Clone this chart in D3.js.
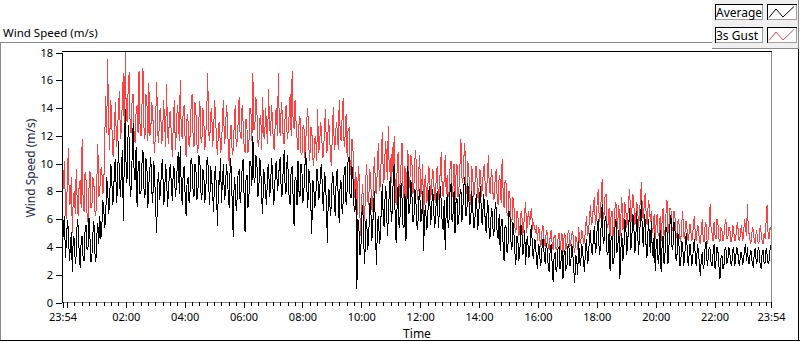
<!DOCTYPE html>
<html><head><meta charset="utf-8">
<script src="https://cdn.jsdelivr.net/npm/d3@7"></script>
<style>body{margin:0;background:#fff}svg{display:block}</style>
</head><body>
<svg id="c" width="800" height="342"></svg>
<script>
// ---------------- data ----------------
const startMinute = -9;      // minutes relative to midnight (first sample, shown as 23:54)
const stepMinutes = 2;       // sample spacing
const average = [
3.8,5.6,6.2,3.2,4.5,5.9,5.3,3.0,3.9,5.1,2.2,4.8,4.6,2.8,3.4,6.0,5.5,3.6,2.5,4.4,
4.8,3.2,3.0,5.2,5.6,3.8,4.0,6.1,4.6,2.9,3.4,5.0,5.9,3.6,2.9,4.9,5.7,4.2,6.2,4.6,
5.2,7.4,6.8,5.4,6.0,9.0,8.2,6.4,7.0,10.0,9.6,7.0,7.5,9.9,10.3,7.2,8.0,11.6,9.0,7.6,
9.5,11.0,5.9,10.4,13.9,8.6,9.0,12.8,11.7,7.6,8.2,10.6,12.9,9.2,8.8,11.2,6.9,9.6,10.2,7.8,
8.0,10.0,11.0,8.2,7.5,10.4,9.8,6.8,8.5,9.6,10.5,8.0,7.2,10.2,9.0,6.6,5.0,8.6,9.4,7.4,
8.2,9.8,10.3,7.0,7.5,10.0,9.2,6.9,8.0,9.4,10.0,8.2,7.3,9.8,9.6,7.6,8.4,9.9,10.8,7.8,
11.3,8.4,7.0,9.4,9.8,7.6,6.2,8.8,9.0,7.2,8.0,10.4,10.0,8.2,7.6,10.0,9.5,7.4,8.0,10.6,
10.2,8.0,7.4,9.6,9.3,7.2,8.0,10.2,10.5,8.4,7.0,9.8,9.0,7.8,6.5,9.2,9.8,7.6,5.5,8.8,
8.5,10.4,7.2,8.8,10.0,7.4,7.8,10.0,9.2,7.6,6.8,10.4,9.6,7.0,4.7,9.0,8.4,6.6,7.5,9.4,
9.5,7.2,8.0,9.6,10.3,7.8,5.1,8.8,9.2,6.8,7.6,10.2,10.0,8.4,12.0,9.0,8.6,10.6,10.4,7.6,
8.0,10.4,9.8,7.4,6.4,9.6,9.0,7.8,7.0,9.6,10.0,7.6,8.2,10.4,9.4,7.0,7.5,9.8,10.2,8.0,
8.6,10.0,10.5,7.6,7.8,9.8,11.0,7.8,8.0,10.6,9.4,7.4,7.0,9.6,9.8,7.6,5.5,9.0,8.8,7.0,
10.2,8.0,7.6,10.0,9.5,7.2,8.0,9.8,10.8,8.2,6.8,9.6,9.0,7.2,4.9,8.8,8.5,6.8,7.2,9.6,
9.6,7.4,7.8,9.6,10.0,7.6,6.6,9.4,8.8,6.8,4.3,8.2,8.0,6.2,7.0,9.4,9.0,7.2,6.2,9.2,
9.6,7.6,5.7,8.8,8.6,6.4,7.2,9.4,9.8,7.0,8.0,10.2,10.5,7.8,7.5,9.8,9.0,7.0,6.5,8.2,
1.0,6.0,5.5,3.4,3.7,6.4,7.0,4.2,2.8,5.8,6.0,3.8,4.6,7.0,7.5,4.4,5.0,7.2,8.0,4.8,
2.7,5.8,6.2,4.2,4.8,7.2,8.5,5.6,5.5,8.4,7.8,4.8,6.0,8.0,9.0,5.8,6.5,8.8,10.0,6.0,
4.3,7.0,8.4,5.4,6.2,8.6,7.5,5.6,5.4,7.8,4.4,7.2,9.8,6.4,6.8,8.8,8.0,5.8,5.8,8.2,
7.6,5.6,5.2,7.4,8.2,5.8,6.0,8.0,3.7,6.4,7.0,5.2,5.6,7.8,8.4,5.6,6.2,8.2,7.5,5.4,
5.8,7.6,8.0,5.4,6.5,8.4,7.2,5.6,5.2,7.4,3.8,6.6,7.8,5.4,6.0,8.2,8.6,5.8,6.4,8.0,
5.0,7.2,7.5,5.6,6.2,7.8,8.2,5.8,6.8,8.4,9.0,6.2,6.4,8.6,7.8,5.6,5.8,8.0,7.0,5.4,
5.4,7.4,7.8,5.2,6.0,7.6,8.4,5.8,5.6,7.8,7.2,5.4,5.0,7.4,6.8,4.6,4.8,6.8,6.5,4.8,
5.2,7.2,6.8,4.8,4.6,6.4,3.7,5.8,6.0,4.2,3.0,5.6,5.4,3.6,4.2,6.6,6.2,4.4,3.8,5.8,
5.0,3.6,2.7,4.8,4.6,3.0,3.5,5.6,5.4,3.4,3.8,5.2,2.7,4.4,4.8,3.2,3.4,5.0,5.6,3.6,
3.1,4.6,4.4,3.0,2.4,4.2,4.0,2.6,3.0,4.4,4.6,3.2,2.8,4.3,3.8,2.6,2.2,3.9,4.2,2.8,
1.45,3.4,3.6,2.2,2.6,3.9,4.0,2.4,3.0,3.8,1.7,3.4,3.8,2.4,2.5,4.0,4.2,2.6,2.9,4.2,
3.6,2.4,1.4,3.4,3.2,2.0,4.4,3.0,2.6,4.2,3.8,2.8,2.2,4.0,4.6,2.8,3.2,4.8,5.2,3.6,
3.5,4.6,5.5,3.6,4.0,5.6,6.0,3.4,3.8,5.8,7.1,4.2,4.5,6.2,5.8,3.4,3.6,5.0,2.3,4.6,
4.8,2.8,3.2,5.4,6.0,3.6,4.2,5.2,1.7,3.8,5.0,3.0,3.6,6.0,5.6,3.4,4.4,5.6,6.8,3.8,
4.2,6.4,6.2,3.6,3.8,6.6,5.4,3.4,4.8,6.0,7.4,4.6,4.0,6.4,5.8,3.2,3.4,6.0,5.0,3.6,
5.9,3.8,3.2,5.0,2.3,4.2,4.6,2.8,3.5,5.2,2.2,4.0,4.8,2.8,3.6,5.4,5.2,2.8,4.0,5.6,
6.3,4.0,3.8,5.8,5.6,3.2,3.0,5.0,4.6,2.6,2.8,4.4,4.2,2.6,3.2,4.6,5.0,3.0,2.6,4.2,
4.2,2.6,3.0,4.0,4.6,3.0,2.6,4.2,3.8,2.8,1.9,3.2,3.6,2.4,2.8,4.2,4.4,2.6,3.2,4.0,
3.8,2.8,2.6,3.6,4.2,2.4,3.0,4.0,3.6,2.6,1.7,3.2,3.4,2.4,2.6,3.8,4.0,2.8,3.0,4.0,
3.6,2.8,2.7,3.8,4.0,2.6,3.2,4.0,3.8,2.9,2.6,3.6,3.6,2.7,3.0,3.8,4.2,3.0,4.0,2.8,
2.8,3.8,3.6,2.7,2.6,3.6,3.9,2.8,3.0,4.0,3.7,2.6,2.5,3.6,3.8,2.8,2.9,3.9,3.5,2.8,
3.0,3.8,4.1
];
const gust = [
7.4,8.8,10.2,6.6,6.0,9.2,11.1,7.0,7.2,9.0,5.0,7.6,8.0,6.4,9.6,7.2,6.2,8.6,8.8,6.8,
11.8,7.4,6.5,9.4,8.8,6.4,5.8,8.2,9.5,6.8,7.0,9.0,8.6,6.6,6.2,8.8,11.4,7.6,8.0,9.6,
9.7,7.8,8.2,11.5,14.9,12.2,17.5,12.8,11.0,14.6,13.8,10.8,10.5,13.0,14.4,11.2,12.0,14.0,15.2,11.8,
12.5,14.6,16.5,12.0,18.0,13.4,13.0,15.6,16.6,12.4,12.2,14.8,15.0,12.0,11.5,13.8,14.2,12.2,16.7,12.8,
12.0,14.2,16.9,12.6,11.8,15.0,14.5,11.6,15.8,12.0,12.5,14.4,13.6,11.6,10.8,13.4,15.9,12.2,11.5,13.8,
14.0,11.4,12.0,14.6,13.2,11.2,15.7,12.4,11.4,13.6,13.8,11.6,10.5,13.2,14.6,11.0,12.3,14.2,13.5,11.6,
16.0,12.4,11.8,13.8,14.2,11.6,10.5,13.6,13.0,11.2,12.0,14.0,15.0,12.2,11.2,14.4,13.6,11.4,10.8,13.2,
14.5,11.8,11.5,14.0,13.2,11.0,12.0,13.8,16.5,12.2,11.6,13.6,14.0,11.2,12.3,14.6,13.4,11.4,10.6,12.8,
13.0,10.8,11.2,13.2,14.6,11.4,12.0,14.2,13.5,11.0,9.8,12.6,12.8,10.6,11.0,12.8,14.2,11.2,11.6,13.0,
14.8,12.0,11.8,14.2,13.0,11.4,10.8,13.2,12.5,10.8,11.5,14.0,13.8,11.6,16.5,12.4,12.6,14.8,14.0,11.6,
11.2,13.2,13.5,11.0,14.8,12.0,11.8,14.0,12.6,11.4,15.4,12.6,12.0,14.2,13.2,11.2,11.0,13.6,14.0,12.0,
16.5,12.6,12.0,14.4,13.6,11.6,11.4,13.8,14.2,11.8,12.3,13.6,15.0,12.0,16.7,13.0,12.5,14.6,13.0,11.8,
11.0,12.8,13.4,10.8,10.6,12.6,12.8,10.4,11.8,13.2,14.0,11.2,10.2,12.6,12.6,10.4,9.8,11.8,12.0,10.2,
13.9,10.8,11.2,13.0,12.4,10.4,10.6,12.6,13.9,10.8,11.0,13.2,12.5,10.6,9.8,12.2,14.1,11.0,11.5,13.0,
12.4,11.0,14.6,12.2,11.6,13.4,14.7,11.2,12.0,13.6,10.5,12.4,12.6,10.2,9.2,11.8,11.0,9.0,7.5,9.4,
6.0,8.6,9.8,6.4,4.8,7.6,8.5,5.8,6.2,8.8,10.0,7.4,7.0,9.6,9.0,6.8,6.5,9.2,10.5,8.0,
7.8,10.2,11.5,8.0,8.5,11.0,12.3,8.6,9.0,11.6,10.8,8.8,12.7,9.4,10.4,8.6,11.2,9.0,12.0,8.4,
7.0,9.6,10.8,7.6,8.6,10.0,11.5,8.4,7.5,9.8,6.8,9.2,11.0,8.2,8.8,10.6,10.4,7.8,8.2,10.2,
11.0,8.4,7.4,9.4,10.6,7.6,8.2,10.0,6.0,8.6,9.2,7.2,7.5,9.8,9.6,7.4,8.0,9.6,9.4,7.6,
7.2,9.4,9.8,7.4,8.0,9.6,10.8,8.0,7.6,9.0,10.6,7.8,9.2,7.6,8.0,9.8,10.2,7.6,8.4,10.0,
7.4,9.2,10.0,7.6,8.2,9.8,11.8,9.0,8.6,10.4,11.5,8.2,7.8,10.2,9.6,7.4,7.0,9.8,9.2,7.6,
8.0,9.8,9.8,7.8,7.2,9.6,9.4,7.6,8.4,9.6,10.0,7.8,7.6,9.2,10.6,8.0,7.8,9.6,9.0,7.4,
7.5,9.0,9.6,7.4,7.0,9.2,8.8,7.2,10.3,8.0,6.8,8.8,8.6,6.4,6.2,8.0,7.6,6.0,5.8,7.6,
7.0,5.4,5.0,6.6,6.4,4.8,5.2,6.4,6.6,4.8,5.4,6.6,7.2,5.0,6.0,6.6,5.6,6.4,6.8,5.2,
5.8,5.4,5.0,5.6,4.4,5.4,5.2,4.0,4.2,5.6,5.4,4.2,4.0,5.2,5.0,4.0,3.8,4.8,5.2,4.2,
3.8,4.8,4.8,3.8,4.0,4.6,5.0,3.8,4.4,5.0,3.6,4.6,5.0,3.8,4.2,5.0,5.2,4.0,4.4,5.0,
5.1,4.0,3.6,4.8,4.6,3.8,5.4,4.4,4.2,5.2,5.0,4.2,4.4,5.4,6.2,4.8,5.0,6.0,7.0,5.6,
5.8,7.0,7.6,5.6,6.0,7.4,8.2,5.8,6.2,7.6,8.9,6.0,6.4,7.8,7.8,5.4,5.6,6.8,4.8,6.2,
6.6,4.8,5.4,6.8,7.2,5.2,6.0,7.0,4.6,6.2,7.6,5.2,5.8,7.2,6.8,5.4,6.0,7.4,8.2,5.6,
6.2,7.8,7.6,5.6,5.8,7.2,7.0,5.4,6.4,7.6,8.7,6.2,6.0,7.4,7.9,5.8,5.6,7.4,7.0,5.8,
6.6,5.0,5.4,6.4,4.6,5.8,6.4,4.8,5.0,6.2,4.4,5.8,6.8,4.8,5.2,6.4,7.4,5.0,5.6,6.8,
6.8,5.2,5.2,6.6,6.4,4.6,4.8,5.8,6.0,4.6,4.4,5.6,6.6,4.8,4.6,5.8,5.8,4.6,4.4,5.6,
5.6,4.4,4.6,5.8,6.2,4.6,4.4,5.6,5.4,4.4,4.2,5.2,6.0,4.4,4.4,5.8,5.6,4.2,4.6,5.6,
7.1,5.2,5.0,4.4,5.8,4.8,4.6,6.0,5.6,4.6,4.4,5.4,5.2,4.4,4.8,5.6,6.0,4.6,4.6,5.4,
5.4,4.4,4.4,5.6,5.2,4.4,4.6,5.4,5.8,4.6,4.4,5.2,5.6,4.4,4.8,6.0,5.4,4.8,7.1,5.0,
5.0,4.2,4.4,5.4,5.2,4.4,4.2,5.2,4.8,4.2,4.4,5.6,5.0,4.4,4.2,5.0,4.6,5.8,7.0,5.0,
4.6,5.4,5.2
];
const seriesNames = ["Average", "3s Gust"];
const yTicks = [0, 2, 4, 6, 8, 10, 12, 14, 16, 18];
const xLabelMinutes = [120, 240, 360, 480, 600, 720, 840, 960, 1080, 1200, 1320];
const xLabels = ["02:00","04:00","06:00","08:00","10:00","12:00","14:00","16:00","18:00","20:00","22:00"];
const endLabel = "23:54";

// ---------------- drawing ----------------
const FONT = "'Noto Sans', 'Liberation Sans', Arial, sans-serif";
const colors = {avg: "#000000", gust: "#ff4040"};
const svg = d3.select("#c").style("font-family", FONT);

const n = average.length;
const endMinute = startMinute + (n - 1) * stepMinutes;
const tAt = i => startMinute + i * stepMinutes;

const x = d3.scaleLinear().domain([startMinute, endMinute]).range([62.5, 771]);
const y = d3.scaleLinear().domain([0, 18]).range([302.5, 52.5]);

svg.append("rect").attr("width", 800).attr("height", 342).attr("fill", "#fff");

// outer frame
const frame = svg.append("g").attr("shape-rendering", "crispEdges");
frame.append("line").attr("x1", 0).attr("x2", 712).attr("y1", 42.5).attr("y2", 42.5).attr("stroke", "#8a8a8a");
frame.append("line").attr("x1", 0.5).attr("x2", 0.5).attr("y1", 42).attr("y2", 341).attr("stroke", "#8a8a8a");
frame.append("line").attr("x1", 0).attr("x2", 800).attr("y1", 340.5).attr("y2", 340.5).attr("stroke", "#000");
frame.append("line").attr("x1", 798.5).attr("x2", 798.5).attr("y1", 48).attr("y2", 341).attr("stroke", "#000");

// legend panel
frame.append("rect").attr("x", 712).attr("y", 0).attr("width", 86).attr("height", 48).attr("fill", "#f0f0f0");
frame.append("line").attr("x1", 712).attr("x2", 799).attr("y1", 48.5).attr("y2", 48.5).attr("stroke", "#8a8a8a");
frame.append("line").attr("x1", 798.5).attr("x2", 798.5).attr("y1", 0).attr("y2", 48).attr("stroke", "#8a8a8a");

function box3d(g, bx, by, bw, bh) {
  g.append("rect").attr("x", bx).attr("y", by).attr("width", bw).attr("height", bh).attr("fill", "#fff");
  g.append("path").attr("d", `M${bx + 0.5},${by + bh}V${by + 0.5}H${bx + bw}`).attr("fill", "none").attr("stroke", "#000");
  g.append("path").attr("d", `M${bx + 1},${by + bh - 0.5}H${bx + bw - 0.5}V${by + 1}`).attr("fill", "none").attr("stroke", "#a0a0a0");
}
const legendColors = [colors.avg, colors.gust];
seriesNames.forEach((name, k) => {
  const ly = 4 + k * 23;
  const g = svg.append("g");
  const gb = g.append("g").attr("shape-rendering", "crispEdges");
  box3d(gb, 715, ly, 48, 16);
  box3d(gb, 767, ly, 30, 16);
  g.append("text").attr("x", 716).attr("y", ly + 12.5).attr("font-size", 12).attr("fill", "#000").text(name);
  g.append("path")
    .attr("d", `M769,${ly + 13.5}L776,${ly + 5}L783,${ly + 13}L794,${ly + 2.5}`)
    .attr("fill", "none").attr("stroke", legendColors[k]).attr("stroke-width", 1);
});

// chart title
svg.append("text").attr("x", 3).attr("y", 36.5).attr("font-size", 11.5).attr("fill", "#000").text("Wind Speed (m/s)");

// plot area
svg.append("defs").append("clipPath").attr("id", "clip")
  .append("rect").attr("x", 62.5).attr("y", 52).attr("width", 709).attr("height", 251);

const line = d3.line().x((d, i) => x(tAt(i))).y(d => y(d));
const lines = svg.append("g").attr("clip-path", "url(#clip)").attr("shape-rendering", "crispEdges");
lines.append("path").datum(gust).attr("d", line).attr("fill", "none").attr("stroke", colors.gust).attr("stroke-width", 1);
lines.append("path").datum(average).attr("d", line).attr("fill", "none").attr("stroke", colors.avg).attr("stroke-width", 1);

// plot borders
const pb = svg.append("g").attr("shape-rendering", "crispEdges");
pb.append("line").attr("x1", 62).attr("x2", 772).attr("y1", 51.5).attr("y2", 51.5).attr("stroke", "#000");
pb.append("line").attr("x1", 771.5).attr("x2", 771.5).attr("y1", 52).attr("y2", 303).attr("stroke", "#8a8a8a");

// y axis
const yAxis = svg.append("g").attr("transform", "translate(62,0)")
  .call(d3.axisLeft(y).tickValues(yTicks).tickSize(6).tickSizeOuter(0).tickPadding(3));
yAxis.select(".domain").attr("stroke", "#000").attr("shape-rendering", "crispEdges");
yAxis.selectAll(".tick line").attr("stroke", "#000").attr("shape-rendering", "crispEdges");
yAxis.selectAll("text").attr("font-size", 11).attr("font-family", FONT).attr("fill", "#000");

// x axis: minor ticks every 15 minutes
const minorMinutes = d3.range(0, 1440, 15).filter(m => m % 120 !== 0 && m <= endMinute);
const xMinor = svg.append("g").attr("transform", "translate(0,302)")
  .call(d3.axisBottom(x).tickValues(minorMinutes).tickSize(4).tickSizeOuter(0).tickFormat(""));
xMinor.select(".domain").attr("stroke", "#8a8a8a").attr("shape-rendering", "crispEdges");
xMinor.selectAll(".tick line").attr("stroke", "#000").attr("shape-rendering", "crispEdges");

// x axis: major ticks with labels
const majorMinutes = [startMinute, 0].concat(xLabelMinutes, [endMinute]);
const labelFor = m => {
  if (m === startMinute || m === endMinute) return endLabel;
  const idx = xLabelMinutes.indexOf(m);
  return idx >= 0 ? xLabels[idx] : "";
};
const xMajor = svg.append("g").attr("transform", "translate(0,302)")
  .call(d3.axisBottom(x).tickValues(majorMinutes).tickSize(6).tickSizeOuter(0).tickPadding(5).tickFormat(labelFor));
xMajor.select(".domain").remove();
xMajor.selectAll(".tick line").attr("stroke", "#000").attr("shape-rendering", "crispEdges");
xMajor.selectAll("text").attr("font-size", 11).attr("font-family", FONT).attr("fill", "#000");

// axis titles
svg.append("text").attr("x", 417).attr("y", 337.5).attr("text-anchor", "middle")
  .attr("font-size", 12).attr("fill", "#000").text("Time");
svg.append("text").attr("transform", "translate(35,168) rotate(-90)").attr("text-anchor", "middle")
  .attr("font-size", 12).attr("fill", "#1c2550").text("Wind Speed (m/s)");
</script>
</body></html>
